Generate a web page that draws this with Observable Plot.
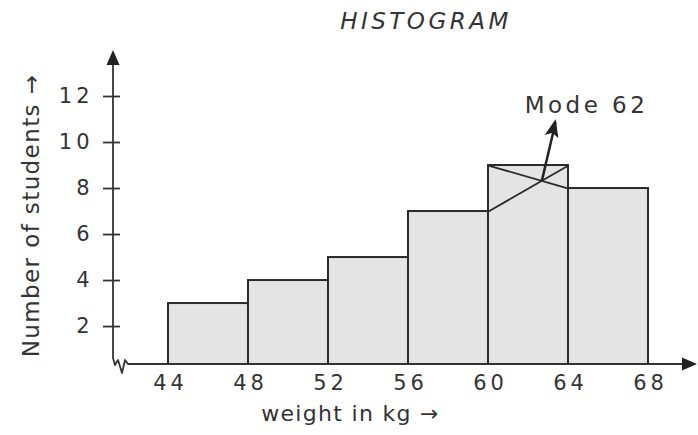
<!DOCTYPE html>
<html><head><meta charset="utf-8">
<script src="https://cdn.jsdelivr.net/npm/d3@7"></script>
<script src="https://cdn.jsdelivr.net/npm/@observablehq/plot@0.6"></script>
<style>
body{margin:0;background:#fff;}
#wrap{position:relative;width:698px;height:435px;overflow:hidden;}
#title{height:40px;position:relative;}
#title span{position:absolute;left:426px;top:21px;transform:translate(-50%,-50%);font-family:"DejaVu Sans";font-size:23px;letter-spacing:3.5px;color:#333;font-style:italic;white-space:nowrap;}
svg{display:block;}
</style></head>
<body><div id="wrap"><div id="title"><span id="t"></span></div><div id="chart"></div></div>
<script>
// ---- data ----
const binEdges = [44, 48, 52, 56, 60, 64, 68];
const counts = [3, 4, 5, 7, 9, 8];
const yTicks = [2, 4, 6, 8, 10, 12];
const xTicks = binEdges;
const titleText = "HISTOGRAM";
const xLabel = "weight in kg →";
const yLabel = "Number of students →";
const modeLabel = "Mode 62";
const modeLabelAt = [64.85, 11.6];
const modeArrowTip = [63.35, 10.87];
const xDomain = [41.25, 70.45];
const yDomain = [0.35, 14];

const ink = "#333";
const bins = counts.map((c, i) => ({lo: binEdges[i], hi: binEdges[i + 1], count: c}));
const m = counts.indexOf(d3.max(counts));
const modal = bins[m], prev = bins[m - 1], next = bins[m + 1];
const modeLines = [
  {x1: modal.lo, y1: modal.count, x2: modal.hi, y2: next.count},
  {x1: modal.hi, y1: modal.count, x2: modal.lo, y2: prev.count}
];
const [a, b] = modeLines;
function inter(p, q) {
  const d = (p.x1 - p.x2) * (q.y1 - q.y2) - (p.y1 - p.y2) * (q.x1 - q.x2);
  const t = ((p.x1 - q.x1) * (q.y1 - q.y2) - (p.y1 - q.y1) * (q.x1 - q.x2)) / d;
  return [p.x1 + t * (p.x2 - p.x1), p.y1 + t * (p.y2 - p.y1)];
}
const X = inter(a, b);

document.getElementById("t").textContent = titleText;

const plot = Plot.plot({
  width: 698, height: 395,
  marginLeft: 113, marginRight: 1, marginTop: 10, marginBottom: 71,
  style: {fontFamily: "DejaVu Sans", background: "#fff", color: ink, overflow: "visible"},
  x: {domain: xDomain, axis: null},
  y: {domain: yDomain, axis: null},
  marks: [
    Plot.rect(bins, {x1: "lo", x2: "hi", y1: yDomain[0], y2: "count", fill: "#e4e4e4", stroke: "#2a2a2a", strokeWidth: 2}),
    Plot.link(modeLines, {x1: "x1", y1: "y1", x2: "x2", y2: "y2", stroke: "#2a2a2a", strokeWidth: 1.8}),
    Plot.link([{x1: X[0], y1: X[1], x2: modeArrowTip[0], y2: modeArrowTip[1]}], {x1: "x1", y1: "y1", x2: "x2", y2: "y2", stroke: "#222", strokeWidth: 2.5}),
    Plot.axisY(yTicks, {anchor: "left", tickSize: 17, tickPadding: 10, dx: 7, fontSize: 21, stroke: ink, fill: ink, strokeWidth: 1.8}),
    Plot.axisX(xTicks, {anchor: "bottom", tickSize: 0, tickPadding: 11, dx: 2, fontSize: 21, fill: ink}),
    Plot.text([modeLabel], {x: modeLabelAt[0], y: modeLabelAt[1], dx: 1, text: d => d, fontSize: 23, fill: ink}),
    Plot.text([yLabel], {frameAnchor: "left", textAnchor: "middle", text: d => d, rotate: -90, dx: -82, dy: 8, fontSize: 23, fill: ink}),
    Plot.text([xLabel], {frameAnchor: "bottom", textAnchor: "middle", text: d => d, dx: -55, dy: 56, fontSize: 22, fill: ink})
  ]
});

// letter spacing to approach the wide hand-lettered text of the original
const spacing = new Map([[modeLabel, 3.5], [xLabel, 1.3], [yLabel, 1.4]]);
d3.select(plot).selectAll("text").each(function () {
  const s = this.textContent;
  if (spacing.has(s)) this.setAttribute("letter-spacing", spacing.get(s));
  else if (/^\d+$/.test(s)) this.setAttribute("letter-spacing", 4);
});

const xs = plot.scale("x"), ys = plot.scale("y");
const svg = d3.select(plot);
const ox = xs.apply(xDomain[0]), oy = ys.apply(yDomain[0]);
const topY = ys.apply(yDomain[1]), rightX = xs.apply(xDomain[1]);
const g = svg.append("g").attr("fill", "none").attr("stroke", ink).attr("stroke-width", 1.8).attr("stroke-linejoin", "round");
const kink = [[0, -6], [2, 1], [5, -4], [9, 9], [12, -4], [15, 0], [19, 0]];
g.append("path").attr("d",
  `M${ox},${topY + 6}V${oy - 6}` + kink.map(([dx, dy]) => `L${ox + dx},${oy + dy}`).join("") + `H${rightX - 6}`);
const heads = svg.append("g").attr("fill", "#222");
heads.append("path").attr("d", `M${ox},${topY}L${ox - 6.5},${topY + 15}L${ox + 6.5},${topY + 15}Z`);
heads.append("path").attr("d", `M${rightX},${oy}L${rightX - 15},${oy - 6.5}L${rightX - 15},${oy + 6.5}Z`);
const x0 = xs.apply(X[0]), y0 = ys.apply(X[1]);
const x1 = xs.apply(modeArrowTip[0]), y1 = ys.apply(modeArrowTip[1]);
const ang = Math.atan2(y1 - y0, x1 - x0);
const L = 15, W = 7;
const bx = x1 - L * Math.cos(ang), by = y1 - L * Math.sin(ang);
const nx = -Math.sin(ang), ny = Math.cos(ang);
heads.append("path").attr("d", `M${x1 + 3 * Math.cos(ang)},${y1 + 3 * Math.sin(ang)}L${bx + W * nx},${by + W * ny}L${bx + 4 * Math.cos(ang)},${by + 4 * Math.sin(ang)}L${bx - W * nx},${by - W * ny}Z`);

document.getElementById("chart").appendChild(plot);
</script>
</body></html>
